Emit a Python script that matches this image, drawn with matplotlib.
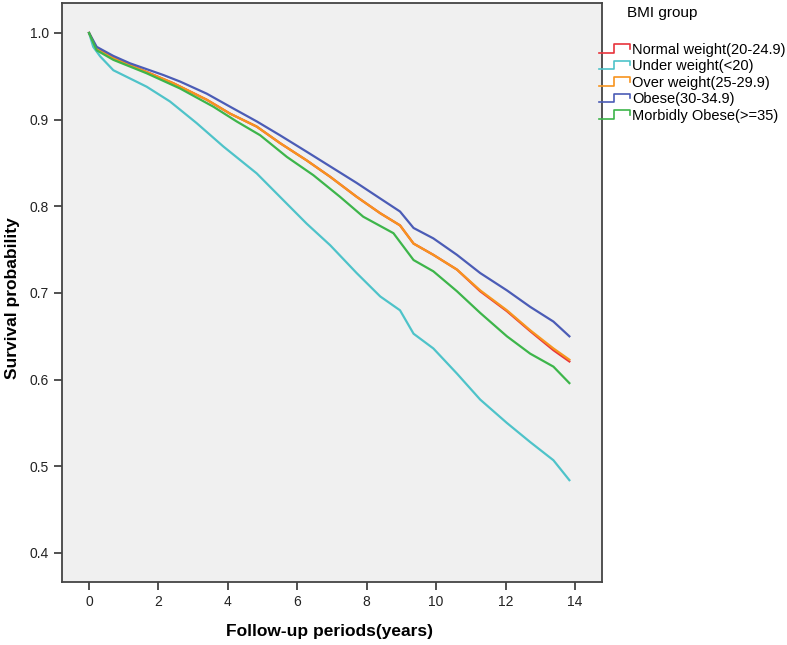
import numpy as np
import matplotlib
matplotlib.use("Agg")
import matplotlib.pyplot as plt
from matplotlib.legend_handler import HandlerBase
from matplotlib.lines import Line2D

plt.rcParams['font.family'] = ['Liberation Sans', 'DejaVu Sans']

# survival curves (years, probability)
t_obese = [0, 0.22, 0.70, 1.18, 2.14, 2.62, 3.39, 4.06, 4.83, 5.50, 6.27, 6.95, 7.71, 8.39, 8.96, 9.35, 9.92, 10.6, 11.27, 12.04, 12.71, 13.38, 13.84]
s_obese = [1.0, 0.984, 0.9735, 0.965, 0.9515, 0.944, 0.930, 0.915, 0.898, 0.882, 0.863, 0.846, 0.827, 0.809, 0.794, 0.775, 0.763, 0.744, 0.723, 0.703, 0.684, 0.667, 0.650]

t_over = [0, 0.22, 0.70, 1.66, 2.43, 3.39, 4.06, 4.83, 5.50, 6.27, 6.95, 7.71, 8.39, 8.96, 9.35, 9.92, 10.6, 11.27, 12.04, 12.71, 13.38, 13.84]
s_over = [1.0, 0.982, 0.971, 0.955, 0.942, 0.923, 0.907, 0.892, 0.873, 0.853, 0.834, 0.811, 0.792, 0.778, 0.757, 0.744, 0.727, 0.703, 0.680, 0.657, 0.636, 0.623]

t_normal = [0, 0.22, 0.70, 1.66, 2.43, 3.39, 4.06, 4.83, 5.50, 6.27, 6.95, 7.71, 8.39, 8.96, 9.35, 9.92, 10.6, 11.27, 12.04, 12.71, 13.38, 13.84]
s_normal = [1.0, 0.982, 0.971, 0.955, 0.942, 0.923, 0.907, 0.892, 0.873, 0.853, 0.834, 0.811, 0.792, 0.778, 0.757, 0.744, 0.727, 0.702, 0.679, 0.656, 0.634, 0.621]

t_morbid = [0, 0.22, 0.70, 1.66, 2.62, 3.58, 4.25, 4.93, 5.70, 6.46, 7.23, 7.90, 8.77, 9.35, 9.92, 10.6, 11.27, 12.04, 12.71, 13.38, 13.84]
s_morbid = [1.0, 0.980, 0.969, 0.9535, 0.936, 0.915, 0.898, 0.882, 0.857, 0.836, 0.811, 0.788, 0.769, 0.738, 0.725, 0.702, 0.677, 0.650, 0.630, 0.615, 0.596]

t_under = [0, 0.12, 0.32, 0.70, 1.66, 2.33, 3.10, 3.87, 4.83, 5.50, 6.27, 6.95, 7.71, 8.39, 8.96, 9.35, 9.92, 10.6, 11.27, 12.04, 12.71, 13.38, 13.84]
s_under = [1.0, 0.984, 0.973, 0.957, 0.938, 0.921, 0.896, 0.869, 0.838, 0.811, 0.780, 0.755, 0.723, 0.696, 0.680, 0.653, 0.636, 0.607, 0.577, 0.550, 0.528, 0.507, 0.484]

labels = ["Normal weight(20-24.9)", "Under weight(<20)", "Over weight(25-29.9)",
          "Obese(30-34.9)", "Morbidly Obese(>=35)"]
colors = ["#E8343C", "#4EC3C9", "#F7941E", "#4B5CB6", "#3DB54A"]


class StepHandler(HandlerBase):
    # legend key drawn as a little step like in SPSS output
    def create_artists(self, legend, orig_handle, xdescent, ydescent,
                       width, height, fontsize, trans):
        lo = -ydescent + height * 0.1
        hi = -ydescent + height * 0.95
        xs = [-xdescent, -xdescent + width * 0.5, -xdescent + width * 0.5,
              -xdescent + width, -xdescent + width]
        ys = [lo, lo, hi, hi, hi - height * 0.45]
        ln = Line2D(xs, ys, color=orig_handle.get_color(), lw=1.2, transform=trans)
        return [ln]


fig = plt.figure(figsize=(7.87, 6.45), dpi=100)
ax = fig.add_axes([62 / 787, 63 / 645, 540 / 787, 579 / 645])
ax.set_facecolor("#F0F0F0")

series = [(t_normal, s_normal), (t_under, s_under), (t_over, s_over),
          (t_obese, s_obese), (t_morbid, s_morbid)]
handles = []
for (t, s), c, lab in zip(series, colors, labels):
    h, = ax.plot(t, s, color=c, lw=1.6, label=lab)
    handles.append(h)

ax.set_xlim(-0.78, 14.78)
ax.set_ylim(0.3665, 1.0346)
ax.set_xticks(np.arange(0, 15, 2))
ax.set_yticks([0.4, 0.5, 0.6, 0.7, 0.8, 0.9, 1.0])
ax.set_yticklabels(["0.4", "0.5", "0.6", "0.7", "0.8", "0.9", "1.0"])
ax.tick_params(direction="out", length=6, width=1.2, color="#333333",
               labelsize=10, labelcolor="#222222")
for sp in ax.spines.values():
    sp.set_color("#444444")
    sp.set_linewidth(1.3)

ax.set_ylabel("Survival probability", fontsize=12.5, fontweight="bold")
ax.yaxis.set_label_coords(-0.078, 0.49)
ax.set_xlabel("Follow-up periods(years)", fontsize=12.5, fontweight="bold")
ax.xaxis.set_label_coords(0.496, -0.072)

fig.text(662 / 787, 1 - 13 / 645, "BMI group", fontsize=11, ha="center", va="center")
fig.legend(handles=handles, labels=labels, loc="upper left",
           bbox_to_anchor=(599 / 787, 1 - 43 / 645), frameon=False,
           fontsize=10.5, handlelength=2.1, handletextpad=0.15, labelspacing=0.17,
           borderpad=0, borderaxespad=0,
           handler_map={Line2D: StepHandler()})

fig.savefig("out.png", dpi=100)
